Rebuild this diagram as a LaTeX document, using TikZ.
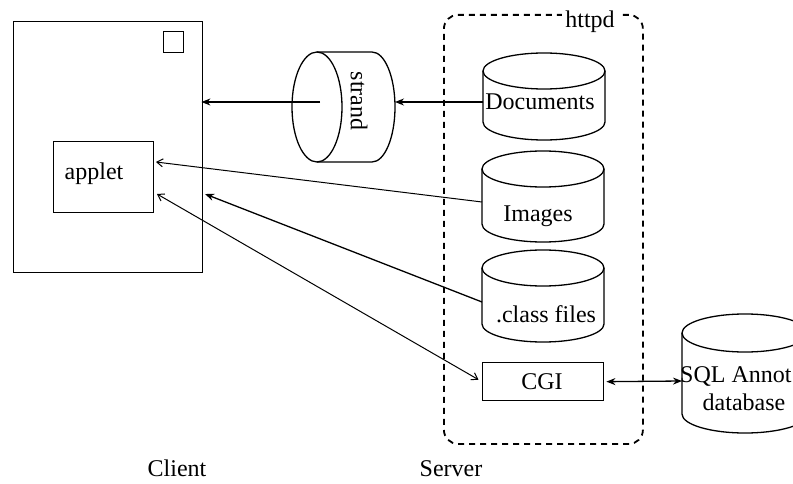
\documentclass[tikz,border=0pt]{standalone}
\usepackage{fontspec}
\setmainfont{Liberation Serif}
\usetikzlibrary{arrows.meta}

\tikzset{
  frame/.style={draw, line width=1.4pt, inner sep=0pt},
  drumline/.style={line width=1.3pt},
  lbl/.style={font=\fontsize{24}{28}\selectfont, inner sep=0pt},
  heavy/.style={line width=1.3pt, -{Stealth[length=9pt,width=7pt]}},
  light/.style={line width=1pt, -{Straight Barb[length=6pt,width=8pt]}},
  lighttwo/.style={line width=1pt, {Straight Barb[length=6pt,width=8pt]}-{Straight Barb[length=6pt,width=8pt]}},
  heavytwo/.style={line width=1.3pt, {Stealth[length=9pt,width=7pt]}-{Stealth[length=9pt,width=7pt]}},
  zone/.style={draw, line width=1.8pt, dash pattern=on 6pt off 5pt, rounded corners=14pt},
}

% vertical storage drum: centre x, top-ellipse y, bottom-arc y, radii
\newcommand\drum[5]{%
  \draw[drumline] (#1-#4,#2) -- (#1-#4,#3)
     arc[start angle=180,end angle=360,x radius=#4pt,y radius=#5pt]
     -- (#1+#4,#2);
  \draw[drumline] (#1,#2) ellipse[x radius=#4pt,y radius=#5pt];
}

\begin{document}
\begin{tikzpicture}[x=1pt,y=-1pt]
\clip (0,0) rectangle (793,484);
\fill[white] (0,0) rectangle (793,484);

% client side
\node[frame, anchor=north west, minimum width=189pt, minimum height=251pt] (client) at (13,21) {};
\node[frame, anchor=north west, minimum width=20pt, minimum height=21pt] (corner) at (163,31) {};
\node[frame, anchor=north west, minimum width=100pt, minimum height=71pt] (applet) at (53,141) {};
\node[lbl, anchor=base] (appletlbl) at (94,180) {applet};

% strand cache (horizontal drum)
\draw[drumline] (317,107) ellipse[x radius=25pt,y radius=55pt];
\draw[drumline] (317,52) -- (372,52)
   arc[start angle=90,end angle=-90,x radius=23pt,y radius=55pt] -- (317,162);
\node[lbl, rotate=-90] (strandlbl) at (359,101) {strand};
\coordinate (strand-c) at (320,102);
\coordinate (strand-e) at (395,102);

% server area
\node[zone, anchor=north west, minimum width=199pt, minimum height=429pt] (httpd) at (443,14) {};
\node[lbl, fill=white, inner xsep=3pt, anchor=base] (httpdlbl) at (590,28) {httpd};

\drum{544}{71}{122}{61}{18}
\node[lbl, anchor=base] (docs) at (540,110) {Documents};
\coordinate (docs-w) at (483,102);

\drum{543}{169}{224}{61}{18}
\node[lbl, anchor=base] (images) at (538,222) {Images};
\coordinate (images-w) at (482,202);

\drum{543}{268}{324}{61}{18}
\node[lbl, anchor=base] (classes) at (546,322) {.class files};
\coordinate (classes-w) at (482,302);

\node[frame, anchor=north west, minimum width=121pt, minimum height=38pt] (cgi) at (482,362) {};
\node[lbl, anchor=base] (cgilbl) at (542,389) {CGI};

% annotation database
\drum{745}{333}{414}{63}{19}
\node[lbl, anchor=base west] (sql1) at (680,382) {SQL Annot};
\node[lbl, anchor=base] (sql2) at (744,410) {database};
\coordinate (sql-w) at (682,381);

% connector end points on the client side
\coordinate (client-in1) at (client.east |- strand-c);
\coordinate (client-in2) at (205,194);
\coordinate (applet-in1) at (156,162);
\coordinate (applet-in2) at (157,194);

% connectors
\draw[heavy, shorten >=-2pt] (strand-c) -- (client-in1);
\draw[heavy] (docs-w) -- (strand-e);
\draw[light] (images-w) -- (applet-in1);
\draw[heavy] (classes-w) -- (client-in2);
\draw[lighttwo, shorten >=4pt] (applet-in2) -- (cgi.west);
\draw[heavytwo, shorten <=2pt] (cgi.east) -- (sql-w);

% tier captions
\node[lbl, anchor=base] (clientlbl) at (177,476) {Client};
\node[lbl, anchor=base] (serverlbl) at (451,476) {Server};
\end{tikzpicture}
\end{document}
